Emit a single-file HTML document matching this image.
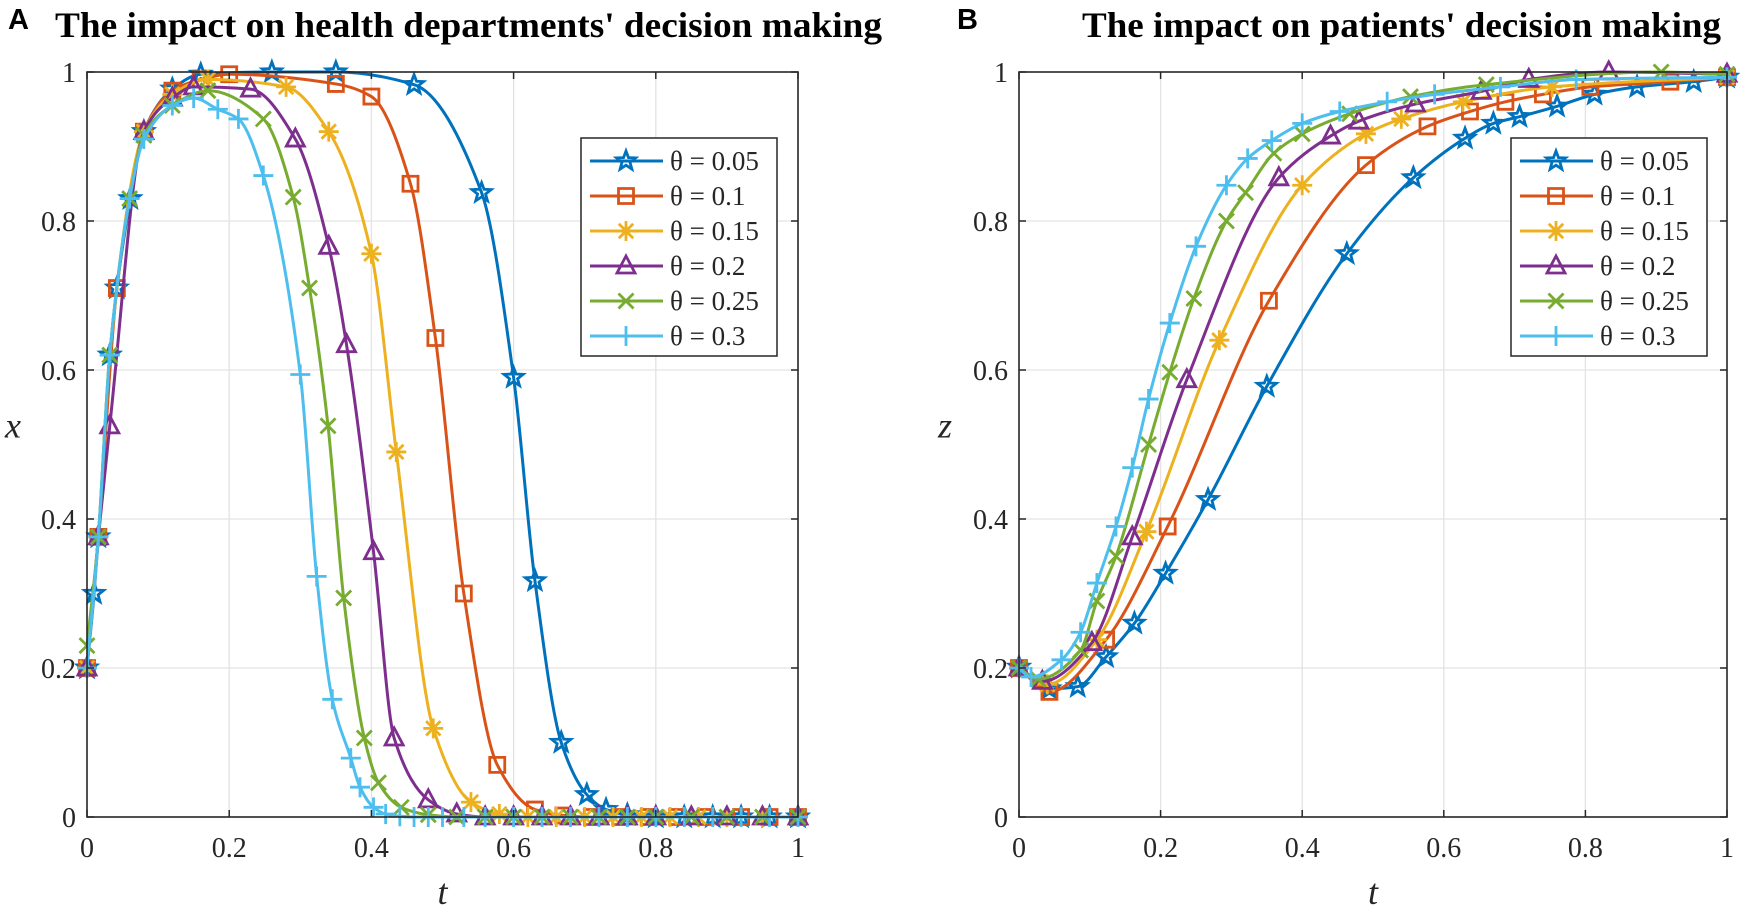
<!DOCTYPE html>
<html><head><meta charset="utf-8">
<style>
html,body{margin:0;padding:0;background:#fff;}
svg{display:block;}
text{font-family:"Liberation Serif",serif;fill:#262626;}
</style></head>
<body>
<svg id="fig" width="1750" height="914" viewBox="0 0 1750 914" xmlns="http://www.w3.org/2000/svg">
<rect width="1750" height="914" fill="#fff"/>
<text x="8" y="29" style="font-family:'Liberation Sans',sans-serif;font-weight:bold;font-size:29px;fill:#000">A</text>
<text x="55" y="37" textLength="827" lengthAdjust="spacingAndGlyphs" style="font-weight:bold;font-size:36px;fill:#000">The impact on health departments' decision making</text>
<text x="957" y="29" style="font-family:'Liberation Sans',sans-serif;font-weight:bold;font-size:29px;fill:#000">B</text>
<text x="1082" y="37" textLength="639" lengthAdjust="spacingAndGlyphs" style="font-weight:bold;font-size:36px;fill:#000">The impact on patients' decision making</text>
<g id="panelA"></g>
<g id="panelB"></g>
</svg>
<script>
const thetaLabels = ["θ = 0.05","θ = 0.1","θ = 0.15","θ = 0.2","θ = 0.25","θ = 0.3"];
const xTicks = [0,0.2,0.4,0.6,0.8,1];
const xTickLabels = ["0","0.2","0.4","0.6","0.8","1"];
const yTicks = [0,0.2,0.4,0.6,0.8,1];
const yTickLabels = ["0","0.2","0.4","0.6","0.8","1"];

// Panel A: x(t)
const a1t = [0,0.01,0.016,0.032,0.042,0.061,0.08,0.12,0.16,0.26,0.35,0.46,0.555,0.6,0.63,0.667,0.703,0.73,0.76,0.8,0.84,0.88,0.92,0.96,1];
const a1v = [0.2,0.3,0.376,0.62,0.71,0.83,0.92,0.977,0.997,1,1,0.983,0.838,0.59,0.317,0.1,0.03,0.01,0.003,0,0,0,0,0,0];
const a2t = [0,0.016,0.042,0.08,0.12,0.16,0.2,0.35,0.4,0.455,0.49,0.53,0.577,0.63,0.67,0.71,0.75,0.79,0.83,0.87,0.92,0.96,1];
const a2v = [0.2,0.376,0.71,0.92,0.975,0.99,0.997,0.984,0.967,0.85,0.643,0.3,0.07,0.01,0.002,0,0,0,0,0,0,0,0];
const a3t = [0,0.016,0.032,0.08,0.12,0.17,0.28,0.34,0.4,0.435,0.487,0.54,0.58,0.62,0.66,0.7,0.74,0.78,0.82,0.86,0.9,0.95,1];
const a3v = [0.2,0.376,0.62,0.92,0.97,0.99,0.98,0.92,0.756,0.49,0.119,0.02,0.004,0,0,0,0,0,0,0,0,0,0];
const a4t = [0,0.016,0.032,0.08,0.12,0.15,0.23,0.293,0.34,0.365,0.403,0.432,0.48,0.52,0.56,0.6,0.64,0.68,0.72,0.76,0.8,0.85,0.9,0.95,1];
const a4v = [0.2,0.376,0.525,0.92,0.965,0.98,0.977,0.91,0.766,0.634,0.356,0.106,0.023,0.004,0,0,0,0,0,0,0,0,0,0,0];
const a5t = [0,0.016,0.032,0.06,0.08,0.12,0.17,0.248,0.29,0.313,0.339,0.361,0.39,0.41,0.442,0.48,0.52,0.56,0.6,0.64,0.68,0.72,0.76,0.8,0.85,0.9,0.95,1];
const a5v = [0.23,0.376,0.62,0.83,0.915,0.955,0.975,0.937,0.832,0.71,0.525,0.294,0.106,0.046,0.013,0.003,0,0,0,0,0,0,0,0,0,0,0,0];
const a6t = [0,0.016,0.032,0.06,0.08,0.12,0.15,0.184,0.213,0.248,0.3,0.323,0.345,0.371,0.384,0.403,0.42,0.44,0.46,0.48,0.5,0.53,0.56,0.6,0.64,0.68,0.72,0.76,0.8,0.84,0.88,0.92,0.96,1];
const a6v = [0.2,0.376,0.62,0.83,0.91,0.955,0.965,0.95,0.937,0.861,0.594,0.323,0.158,0.079,0.04,0.013,0.004,0.001,0,0,0,0,0,0,0,0,0,0,0,0,0,0,0,0];

// Panel B: z(t)
const b1t = [0,0.043,0.083,0.123,0.163,0.207,0.267,0.35,0.463,0.557,0.63,0.67,0.707,0.76,0.813,0.873,0.953,1];
const b1v = [0.201,0.172,0.175,0.215,0.26,0.327,0.426,0.578,0.756,0.858,0.911,0.931,0.94,0.954,0.97,0.98,0.987,0.993];
const b2t = [0,0.043,0.123,0.21,0.353,0.49,0.577,0.637,0.687,0.74,0.807,0.92,1];
const b2v = [0.2,0.168,0.238,0.39,0.693,0.875,0.927,0.947,0.96,0.97,0.98,0.987,0.993];
const b3t = [0,0.04,0.11,0.18,0.283,0.4,0.49,0.54,0.627,0.753,1];
const b3v = [0.2,0.178,0.238,0.383,0.64,0.848,0.917,0.937,0.96,0.98,0.993];
const b4t = [0,0.033,0.103,0.16,0.237,0.367,0.44,0.48,0.56,0.653,0.72,0.833,1];
const b4v = [0.2,0.182,0.234,0.376,0.587,0.858,0.914,0.934,0.957,0.974,0.99,1,0.997];
const b5t = [0,0.027,0.087,0.11,0.137,0.183,0.213,0.247,0.293,0.32,0.36,0.4,0.467,0.553,0.66,0.907,1];
const b5v = [0.2,0.185,0.224,0.29,0.35,0.5,0.597,0.696,0.8,0.838,0.891,0.917,0.944,0.967,0.983,1,0.997];
const b6t = [0,0.017,0.06,0.087,0.11,0.137,0.16,0.183,0.213,0.25,0.293,0.323,0.357,0.4,0.453,0.52,0.587,0.68,0.787,1];
const b6v = [0.2,0.188,0.211,0.248,0.314,0.39,0.469,0.561,0.663,0.766,0.848,0.884,0.908,0.931,0.947,0.96,0.97,0.98,0.99,0.993];

const colors = ["#0072BD","#D95319","#EDB120","#7E2F8E","#77AC30","#4DBEEE"];
const markerTypes = ["star","square","asterisk","triangle","cross","plus"];
const seriesNames = ["theta-005","theta-01","theta-015","theta-02","theta-025","theta-03"];
const NS = "http://www.w3.org/2000/svg";

function mk(tag, attrs, parent){
  const e = document.createElementNS(NS, tag);
  for (const k in attrs) e.setAttribute(k, attrs[k]);
  if (parent) parent.appendChild(e);
  return e;
}

function monotonePath(px, py){
  const n = px.length;
  if (n < 2) return "";
  const d = [], m = new Array(n);
  for (let i=0;i<n-1;i++) d.push((py[i+1]-py[i])/(px[i+1]-px[i]));
  m[0]=d[0]; m[n-1]=d[n-2];
  for (let i=1;i<n-1;i++){
    if (d[i-1]*d[i] <= 0) m[i]=0;
    else { const w1=2*(px[i+1]-px[i])+(px[i]-px[i-1]), w2=(px[i+1]-px[i])+2*(px[i]-px[i-1]); m[i]=(w1+w2)/(w1/d[i-1]+w2/d[i]); }
  }
  let s = "M"+px[0].toFixed(2)+","+py[0].toFixed(2);
  for (let i=0;i<n-1;i++){
    const h = (px[i+1]-px[i])/3;
    s += " C"+(px[i]+h).toFixed(2)+","+(py[i]+m[i]*h).toFixed(2)+" "+(px[i+1]-h).toFixed(2)+","+(py[i+1]-m[i+1]*h).toFixed(2)+" "+px[i+1].toFixed(2)+","+py[i+1].toFixed(2);
  }
  return s;
}

function markerPath(type, x, y, r){
  if (type==="square") return `M${x-r*0.75},${y-r*0.75}h${1.5*r}v${1.5*r}h${-1.5*r}Z`;
  if (type==="triangle") return `M${x},${y-r}L${x+r*0.9},${y+r*0.7}L${x-r*0.9},${y+r*0.7}Z`;
  if (type==="cross") { const q=r*0.75; return `M${x-q},${y-q}L${x+q},${y+q}M${x-q},${y+q}L${x+q},${y-q}`; }
  if (type==="plus") return `M${x-r},${y}H${x+r}M${x},${y-r}V${y+r}`;
  if (type==="asterisk") { const q=r*0.72; return `M${x-r},${y}H${x+r}M${x},${y-r}V${y+r}M${x-q},${y-q}L${x+q},${y+q}M${x-q},${y+q}L${x+q},${y-q}`; }
  let s="";
  for (let k=0;k<10;k++){
    const ang = -Math.PI/2 + k*Math.PI/5;
    const rr = (k%2===0)? r : r*0.42;
    s += (k===0?"M":"L")+(x+rr*Math.cos(ang)).toFixed(2)+","+(y+rr*Math.sin(ang)).toFixed(2);
  }
  return s+"Z";
}

function drawPanel(gid, L, R, T, B, ts, vs, yLabel, legendX, prefix){
  const g = document.getElementById(gid);
  const sx = t => L + t*(R-L);
  const sy = v => B - v*(B-T);
  mk("rect",{x:L,y:T,width:R-L,height:B-T,fill:"#fff"},g);
  xTicks.forEach((t,i)=>{
    if (i>0 && i<xTicks.length-1){
      const gl = mk("line",{x1:sx(t),x2:sx(t),y1:T,y2:B,stroke:"#e3e3e3","stroke-width":1.3},g);
      
      
    }
  });
  yTicks.forEach((v,i)=>{
    if (i>0 && i<yTicks.length-1){
      const gl = mk("line",{x1:L,x2:R,y1:sy(v),y2:sy(v),stroke:"#e3e3e3","stroke-width":1.3},g);
      
      
    }
  });
  for (let s=0;s<6;s++){
    const px = ts[s].map(sx), py = vs[s].map(sy);
    const sg = mk("g",{},g);
    
    
    mk("path",{d:monotonePath(px,py),fill:"none",stroke:colors[s],"stroke-width":3,"stroke-linejoin":"round"},sg);
    for (let i=0;i<px.length;i++){
      const m = mk("path",{d:markerPath(markerTypes[s],px[i],py[i],10),fill:"none",stroke:colors[s],"stroke-width":2.8,"stroke-linejoin":"miter"},sg);
      
      
    }
  }
  const box = mk("rect",{x:L,y:T,width:R-L,height:B-T,fill:"none",stroke:"#262626","stroke-width":1.6},g);
  
  
  xTicks.forEach((t,i)=>{
    const x = sx(t);
    mk("line",{x1:x,x2:x,y1:B,y2:B-7,stroke:"#262626","stroke-width":1.5},g);
    mk("line",{x1:x,x2:x,y1:T,y2:T+7,stroke:"#262626","stroke-width":1.5},g);
    const tl = mk("text",{x:x,y:B+40,"text-anchor":"middle","font-size":28},g);
    tl.textContent = xTickLabels[i];
    
    
  });
  yTicks.forEach((v,i)=>{
    const y = sy(v);
    mk("line",{x1:L,x2:L+7,y1:y,y2:y,stroke:"#262626","stroke-width":1.5},g);
    mk("line",{x1:R,x2:R-7,y1:y,y2:y,stroke:"#262626","stroke-width":1.5},g);
    const tl = mk("text",{x:L-11,y:y+10,"text-anchor":"end","font-size":28},g);
    tl.textContent = yTickLabels[i];
    
    
  });
  const xl = mk("text",{x:(L+R)/2,y:B+87,"text-anchor":"middle","font-size":36,"font-style":"italic"},g);
  xl.textContent = "t";
  
  
  const yl = mk("text",{x:L-74,y:(T+B)/2-7,"text-anchor":"middle","font-size":36,"font-style":"italic"},g);
  yl.textContent = yLabel;
  
  
  const lg = mk("g",{},g);
  
  
  mk("rect",{x:legendX,y:138,width:196,height:218,fill:"#fff",stroke:"#262626","stroke-width":1.5},lg);
  for (let s=0;s<6;s++){
    const y = 161 + s*35;
    const eg = mk("g",{},lg);
    
    
    mk("line",{x1:legendX+9,x2:legendX+82,y1:y,y2:y,stroke:colors[s],"stroke-width":3},eg);
    mk("path",{d:markerPath(markerTypes[s],legendX+45,y,10),fill:"none",stroke:colors[s],"stroke-width":2.8},eg);
    const tx = mk("text",{x:legendX+89,y:y+9,"font-size":27},eg);
    tx.textContent = thetaLabels[s];
  }
}

drawPanel("panelA",87,798,72,817,[a1t,a2t,a3t,a4t,a5t,a6t],[a1v,a2v,a3v,a4v,a5v,a6v],"x",581,"panel-a");
drawPanel("panelB",1019,1727,72,817,[b1t,b2t,b3t,b4t,b5t,b6t],[b1v,b2v,b3v,b4v,b5v,b6v],"z",1511,"panel-b");
</script>
</body></html>
